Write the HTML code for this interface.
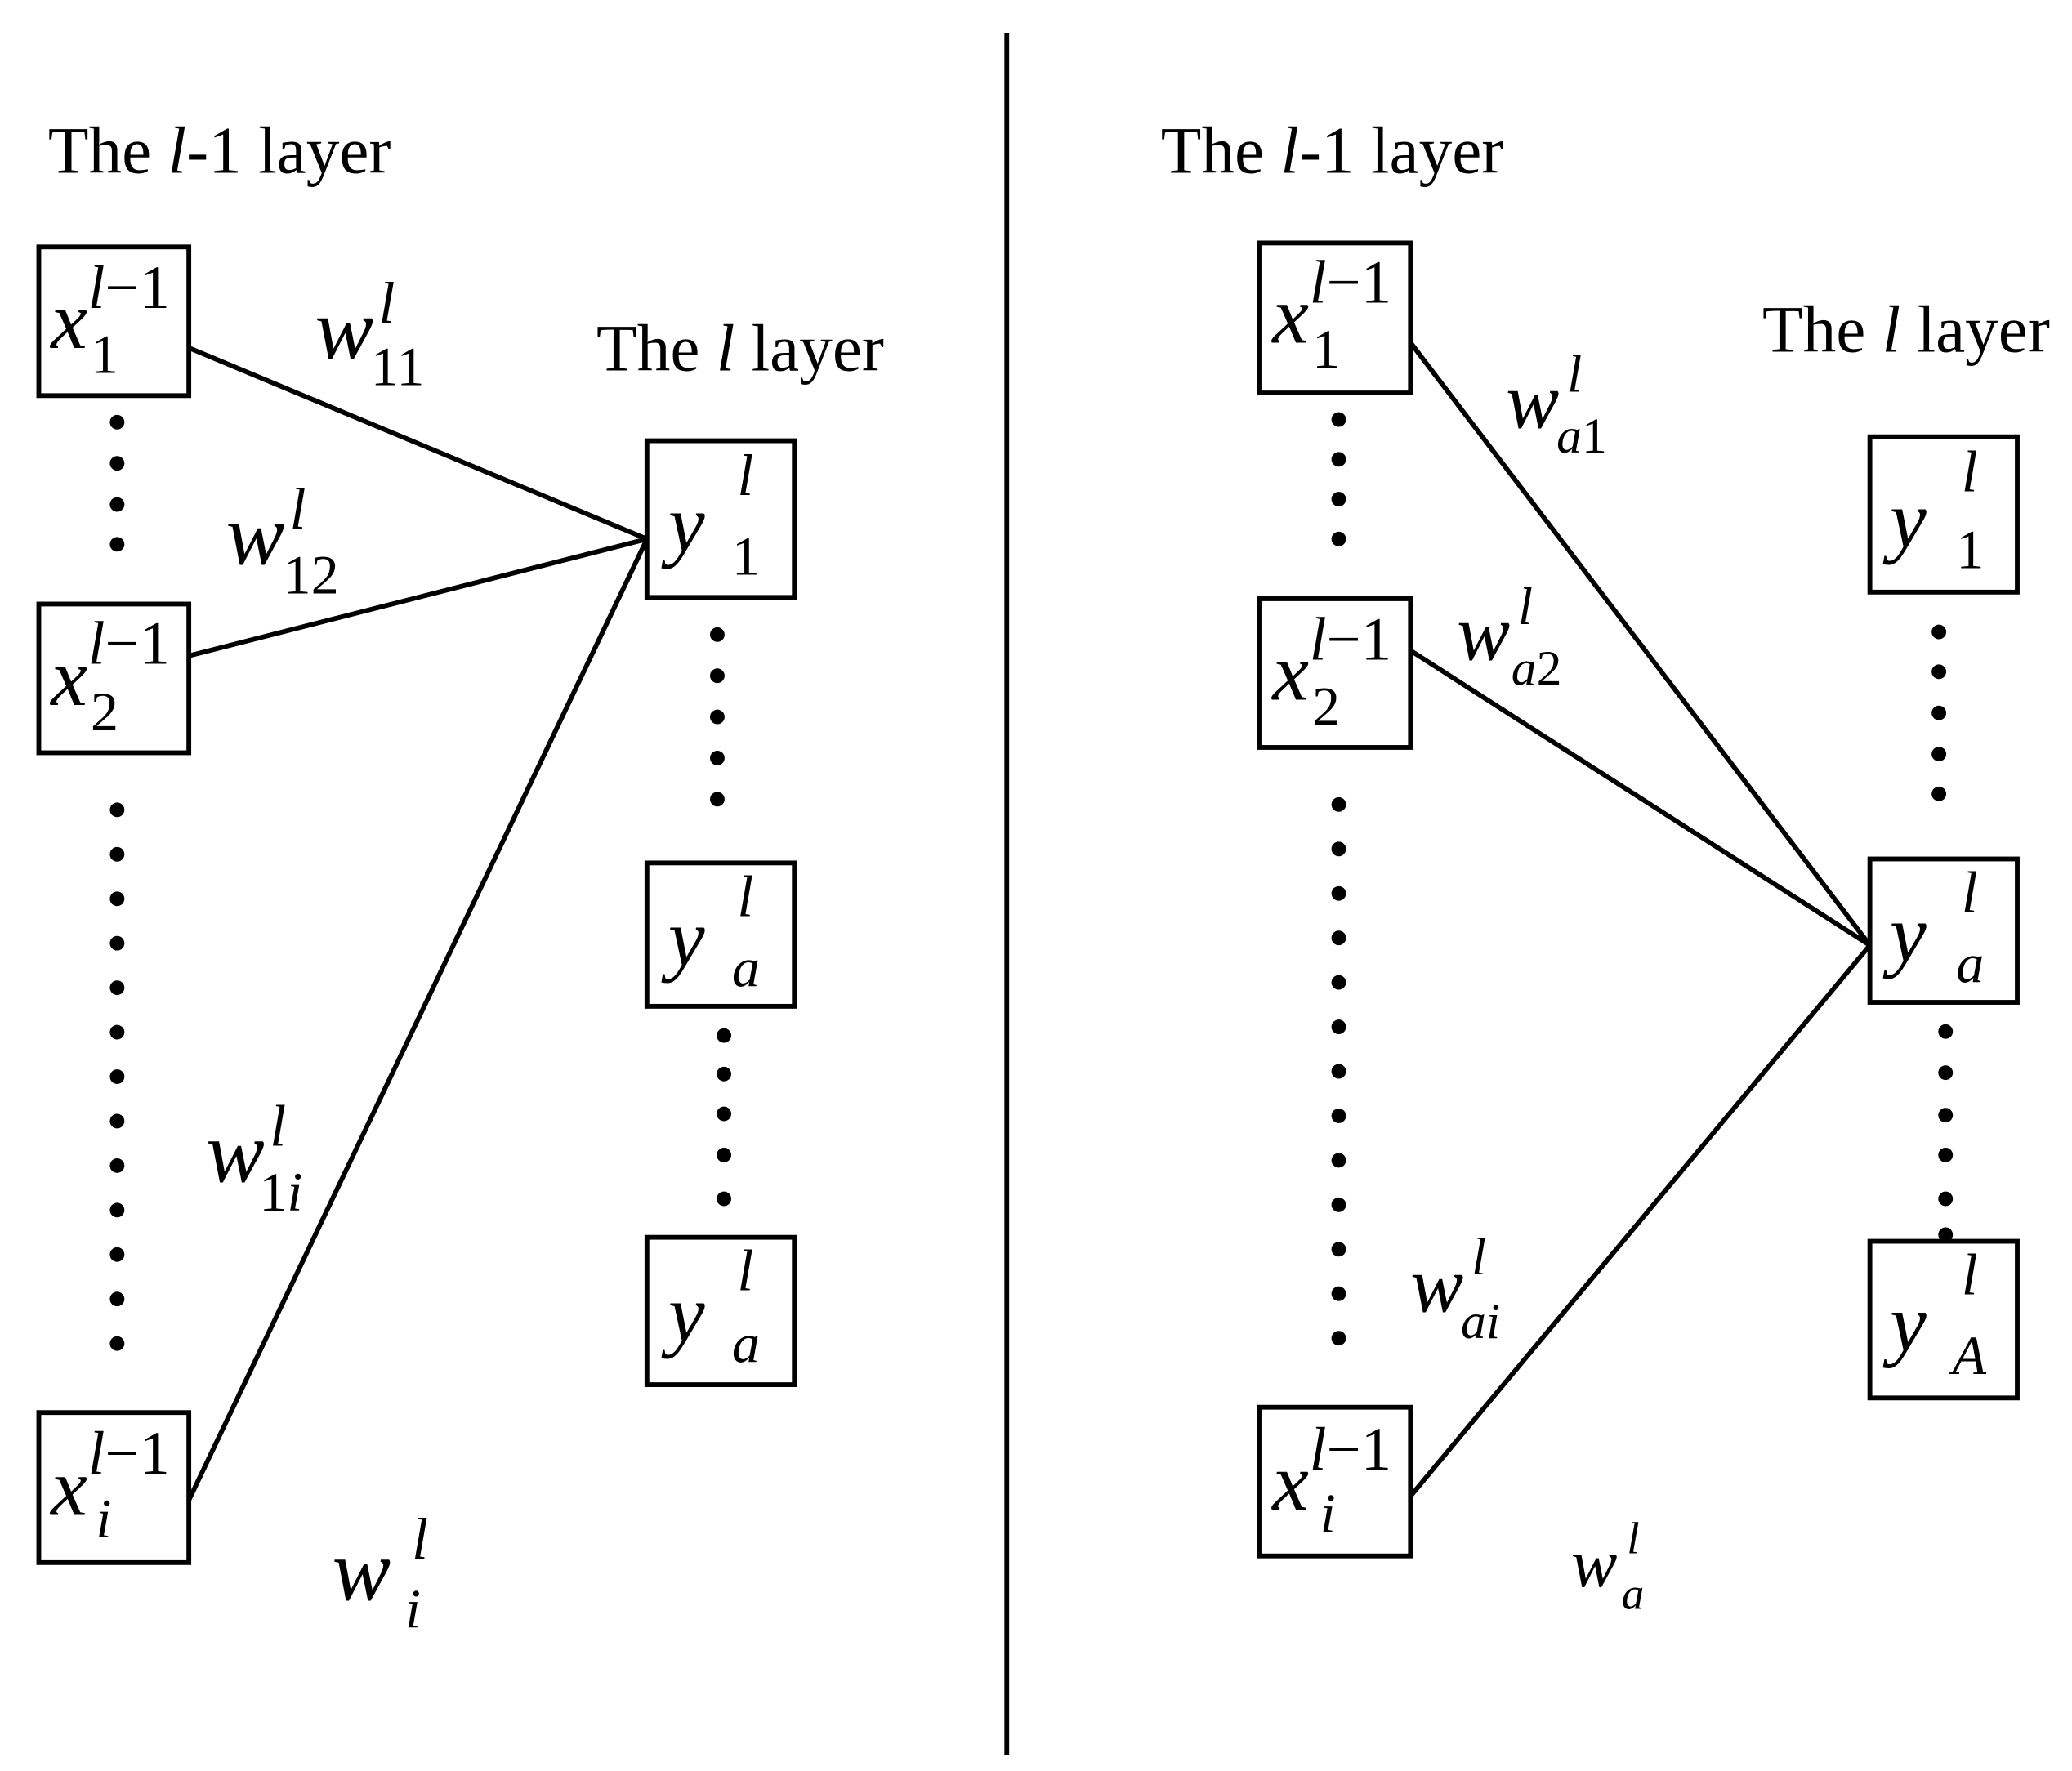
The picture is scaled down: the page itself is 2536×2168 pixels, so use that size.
<!DOCTYPE html>
<html><head><meta charset="utf-8"><style>
html,body{margin:0;padding:0;background:#fff;}
svg{display:block;}
text{font-family:"Liberation Serif",serif;fill:#000;}
.i{font-style:italic;}
</style></head><body>
<svg width="2536" height="2168" viewBox="0 0 1560 1334" xmlns="http://www.w3.org/2000/svg">
<g fill="none" stroke="#000" stroke-width="3.6">
<line x1="758" y1="25" x2="758" y2="1322"/>
<rect x="29" y="186" width="113" height="112"/>
<rect x="29" y="455" width="113" height="112"/>
<rect x="29" y="1064" width="113" height="113"/>
<rect x="487" y="332" width="111" height="118"/>
<rect x="487" y="650" width="111" height="108"/>
<rect x="487" y="932" width="111" height="111"/>
<line x1="142" y1="262" x2="487" y2="406"/>
<line x1="142" y1="494" x2="487" y2="406"/>
<line x1="142" y1="1130" x2="487" y2="406"/>
<rect x="948" y="183" width="114" height="113"/>
<rect x="948" y="451" width="114" height="112"/>
<rect x="948" y="1060" width="114" height="112"/>
<rect x="1408" y="329" width="111" height="117"/>
<rect x="1408" y="647" width="111" height="108"/>
<rect x="1408" y="935" width="111" height="118"/>
<line x1="1062" y1="258" x2="1408" y2="712"/>
<line x1="1062" y1="490" x2="1408" y2="712"/>
<line x1="1062" y1="1127" x2="1408" y2="712"/>
</g>
<g fill="#000">
<circle cx="88" cy="318" r="5.5"/><circle cx="88" cy="349" r="5.5"/><circle cx="88" cy="380" r="5.5"/><circle cx="88" cy="410" r="5.5"/>
<circle cx="88" cy="610" r="5.5"/><circle cx="88" cy="643.5" r="5.5"/><circle cx="88" cy="677" r="5.5"/><circle cx="88" cy="710.5" r="5.5"/><circle cx="88" cy="744" r="5.5"/><circle cx="88" cy="777.5" r="5.5"/><circle cx="88" cy="811" r="5.5"/><circle cx="88" cy="844.5" r="5.5"/><circle cx="88" cy="878" r="5.5"/><circle cx="88" cy="911.5" r="5.5"/><circle cx="88" cy="945" r="5.5"/><circle cx="88" cy="978.5" r="5.5"/><circle cx="88" cy="1012" r="5.5"/>
<circle cx="540" cy="478" r="5.5"/><circle cx="540" cy="509" r="5.5"/><circle cx="540" cy="540" r="5.5"/><circle cx="540" cy="571" r="5.5"/><circle cx="540" cy="602" r="5.5"/>
<circle cx="545" cy="780" r="5.5"/><circle cx="545" cy="809" r="5.5"/><circle cx="545" cy="839" r="5.5"/><circle cx="545" cy="870" r="5.5"/><circle cx="545" cy="903" r="5.5"/>
<circle cx="1008" cy="316" r="5.5"/><circle cx="1008" cy="346" r="5.5"/><circle cx="1008" cy="376" r="5.5"/><circle cx="1008" cy="406" r="5.5"/>
<circle cx="1008" cy="606" r="5.5"/><circle cx="1008" cy="639.5" r="5.5"/><circle cx="1008" cy="673" r="5.5"/><circle cx="1008" cy="706.5" r="5.5"/><circle cx="1008" cy="740" r="5.5"/><circle cx="1008" cy="773.5" r="5.5"/><circle cx="1008" cy="807" r="5.5"/><circle cx="1008" cy="840.5" r="5.5"/><circle cx="1008" cy="874" r="5.5"/><circle cx="1008" cy="907.5" r="5.5"/><circle cx="1008" cy="941" r="5.5"/><circle cx="1008" cy="974.5" r="5.5"/><circle cx="1008" cy="1008" r="5.5"/>
<circle cx="1460" cy="476" r="5.5"/><circle cx="1460" cy="506" r="5.5"/><circle cx="1460" cy="537" r="5.5"/><circle cx="1460" cy="568" r="5.5"/><circle cx="1460" cy="598" r="5.5"/>
<circle cx="1465" cy="777" r="5.5"/><circle cx="1465" cy="808" r="5.5"/><circle cx="1465" cy="840" r="5.5"/><circle cx="1465" cy="870" r="5.5"/><circle cx="1465" cy="903" r="5.5"/><circle cx="1465" cy="930" r="5.5"/>
</g>
<text x="36" y="130" font-size="50">The <tspan class="i">l</tspan>-1 layer</text>
<text x="449" y="279" font-size="50">The <tspan class="i">l</tspan> layer</text>
<text x="874" y="130" font-size="50">The <tspan class="i">l</tspan>-1 layer</text>
<text x="1327" y="265" font-size="50">The <tspan class="i">l</tspan> layer</text>
<g font-size="62">
<text x="38" y="262" class="i">x</text><text x="66" y="232" font-size="46"><tspan class="i">l</tspan>−1</text><text x="68" y="281" font-size="42">1</text>
<text x="38" y="531" class="i">x</text><text x="66" y="500" font-size="46"><tspan class="i">l</tspan>−1</text><text x="68" y="550" font-size="42">2</text>
<text x="38" y="1141" class="i">x</text><text x="66" y="1110" font-size="46"><tspan class="i">l</tspan>−1</text><text x="72" y="1158" font-size="42" class="i">i</text>
<text x="958" y="258" class="i">x</text><text x="986" y="228" font-size="46"><tspan class="i">l</tspan>−1</text><text x="988" y="277" font-size="42">1</text>
<text x="958" y="527" class="i">x</text><text x="986" y="497" font-size="46"><tspan class="i">l</tspan>−1</text><text x="988" y="546" font-size="42">2</text>
<text x="958" y="1137" class="i">x</text><text x="986" y="1107" font-size="46"><tspan class="i">l</tspan>−1</text><text x="994" y="1154" font-size="42" class="i">i</text>
<text x="503" y="415" class="i">y</text><text x="555" y="373" font-size="44" class="i">l</text><text x="551" y="433" font-size="42">1</text>
<text x="503" y="727" class="i">y</text><text x="555" y="690" font-size="44" class="i">l</text><text x="551" y="743" font-size="42" class="i">a</text>
<text x="503" y="1010" class="i">y</text><text x="555" y="972" font-size="44" class="i">l</text><text x="551" y="1026" font-size="42" class="i">a</text>
<text x="1423" y="412" class="i">y</text><text x="1477" y="370" font-size="44" class="i">l</text><text x="1473" y="428" font-size="42">1</text>
<text x="1423" y="724" class="i">y</text><text x="1477" y="687" font-size="44" class="i">l</text><text x="1473" y="740" font-size="42" class="i">a</text>
<text x="1423" y="1017" class="i">y</text><text x="1477" y="975" font-size="44" class="i">l</text><text x="1470" y="1035" font-size="42" class="i">A</text>
<text x="237" y="270" class="i" font-size="66">w</text><text x="285" y="243" font-size="44" class="i">l</text><text x="279" y="290" font-size="42">11</text>
<text x="170" y="425" class="i" font-size="66">w</text><text x="218" y="398" font-size="44" class="i">l</text><text x="213" y="447" font-size="42">12</text>
<text x="155" y="890" class="i" font-size="66">w</text><text x="203" y="863" font-size="44" class="i">l</text><text x="195" y="912" font-size="42">1<tspan class="i">i</tspan></text>
<text x="250" y="1205" class="i" font-size="66">w</text><text x="310" y="1174" font-size="44" class="i">l</text><text x="305" y="1226" font-size="42" class="i">i</text>
<text x="1134" y="322" class="i" font-size="60">w</text><text x="1180" y="295" font-size="40" class="i">l</text><text x="1172" y="341" font-size="38"><tspan class="i">a</tspan>1</text>
<text x="1097" y="497" class="i" font-size="60">w</text><text x="1143" y="470" font-size="40" class="i">l</text><text x="1138" y="516" font-size="38"><tspan class="i">a</tspan>2</text>
<text x="1062" y="988" class="i" font-size="60">w</text><text x="1108" y="960" font-size="40" class="i">l</text><text x="1100" y="1008" font-size="38" class="i">ai</text>
<text x="1183" y="1195" class="i" font-size="52">w</text><text x="1225" y="1170" font-size="34" class="i">l</text><text x="1221" y="1212" font-size="34" class="i">a</text>
</g>
</svg>
</body></html>
